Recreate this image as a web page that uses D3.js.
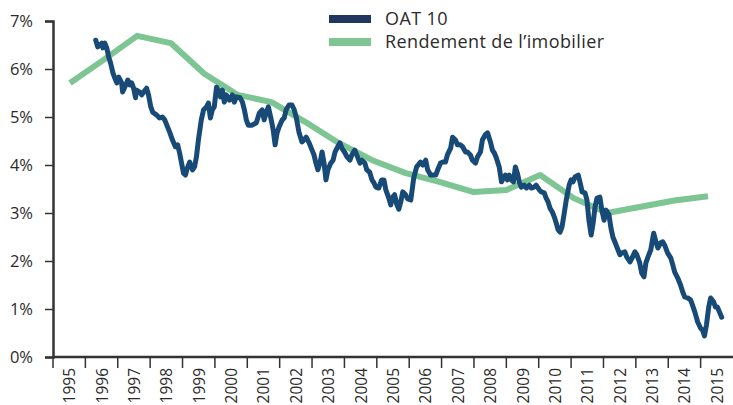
<!DOCTYPE html>
<html>
<head>
<meta charset="utf-8">
<script src="https://cdn.jsdelivr.net/npm/d3@7"></script>
<style>
  body { margin: 0; background: #fff; overflow: hidden; }
  svg { display: block; }
  text { font-family: "Open Sans", sans-serif; fill: #2b2b2b; }
</style>
</head>
<body>
<div id="chart"></div>
<script>
// ---- Data ----
const years = d3.range(1995, 2016).map(String);
const yTicks = [0, 1, 2, 3, 4, 5, 6, 7];

// Rendement de l'imobilier (annual)
const rendYears = d3.range(1995, 2015).map(String);
const rendValues = [5.71, 6.19, 6.69, 6.54, 5.90, 5.46, 5.31, 4.90, 4.46, 4.10,
                    3.83, 3.65, 3.44, 3.48, 3.79, 3.31, 3.00, 3.13, 3.26, 3.35];

// OAT 10 (decimal years, %)
const oatDates = [
  1996.32, 1996.38, 1996.51, 1996.54, 1996.60, 1996.66, 1996.72, 1996.78, 1996.85, 1996.91,
  1996.97, 1997.03, 1997.12, 1997.15, 1997.25, 1997.31, 1997.37, 1997.43, 1997.49, 1997.55,
  1997.58, 1997.68, 1997.74, 1997.80, 1997.89, 1997.95, 1998.02, 1998.08, 1998.20, 1998.29,
  1998.38, 1998.45, 1998.54, 1998.60, 1998.69, 1998.78, 1998.85, 1998.91, 1998.97, 1999.03,
  1999.09, 1999.15, 1999.22, 1999.31, 1999.37, 1999.43, 1999.49, 1999.58, 1999.65, 1999.74,
  1999.80, 1999.86, 1999.92, 1999.98, 2000.05, 2000.11, 2000.17, 2000.23, 2000.29, 2000.35,
  2000.45, 2000.54, 2000.60, 2000.66, 2000.78, 2000.85, 2000.91, 2000.97, 2001.03, 2001.15,
  2001.28, 2001.37, 2001.46, 2001.52, 2001.58, 2001.65, 2001.74, 2001.80, 2001.86, 2001.92,
  2001.98, 2002.08, 2002.14, 2002.20, 2002.29, 2002.38, 2002.45, 2002.51, 2002.60, 2002.69,
  2002.75, 2002.82, 2002.91, 2003.00, 2003.06, 2003.12, 2003.18, 2003.25, 2003.31, 2003.37,
  2003.43, 2003.49, 2003.58, 2003.65, 2003.71, 2003.77, 2003.86, 2003.92, 2004.02, 2004.08,
  2004.17, 2004.23, 2004.32, 2004.38, 2004.48, 2004.54, 2004.63, 2004.69, 2004.78, 2004.85,
  2004.91, 2004.97, 2005.06, 2005.15, 2005.22, 2005.28, 2005.37, 2005.43, 2005.49, 2005.55,
  2005.62, 2005.68, 2005.74, 2005.80, 2005.89, 2005.95, 2006.05, 2006.14, 2006.23, 2006.35,
  2006.42, 2006.51, 2006.57, 2006.66, 2006.72, 2006.82, 2006.88, 2006.97, 2007.03, 2007.12,
  2007.18, 2007.28, 2007.34, 2007.43, 2007.49, 2007.58, 2007.65, 2007.74, 2007.80, 2007.89,
  2007.95, 2008.05, 2008.11, 2008.20, 2008.26, 2008.35, 2008.42, 2008.51, 2008.57, 2008.63,
  2008.69, 2008.78, 2008.85, 2008.91, 2008.97, 2009.03, 2009.09, 2009.15, 2009.22, 2009.28,
  2009.34, 2009.40, 2009.46, 2009.55, 2009.62, 2009.71, 2009.77, 2009.86, 2009.92, 2010.02,
  2010.08, 2010.17, 2010.23, 2010.29, 2010.35, 2010.42, 2010.48, 2010.54, 2010.60, 2010.66,
  2010.72, 2010.78, 2010.85, 2010.94, 2011.00, 2011.06, 2011.12, 2011.22, 2011.28, 2011.34,
  2011.43, 2011.49, 2011.55, 2011.62, 2011.68, 2011.74, 2011.80, 2011.89, 2011.95, 2012.02,
  2012.08, 2012.17, 2012.23, 2012.29, 2012.35, 2012.45, 2012.51, 2012.57, 2012.66, 2012.72,
  2012.82, 2012.88, 2012.97, 2013.03, 2013.12, 2013.18, 2013.25, 2013.31, 2013.40, 2013.46,
  2013.55, 2013.62, 2013.68, 2013.77, 2013.83, 2013.89, 2013.98, 2014.08, 2014.14, 2014.20,
  2014.29, 2014.38, 2014.45, 2014.51, 2014.60, 2014.69, 2014.75, 2014.82, 2014.91, 2015.00,
  2015.06, 2015.12, 2015.18, 2015.25, 2015.31, 2015.40, 2015.46, 2015.52, 2015.58, 2015.65
];
const oatValues = [
  6.60, 6.46, 6.54, 6.44, 6.54, 6.44, 6.25, 6.12, 5.92, 5.81,
  5.71, 5.83, 5.71, 5.52, 5.67, 5.77, 5.67, 5.71, 5.60, 5.40,
  5.56, 5.52, 5.46, 5.52, 5.60, 5.46, 5.21, 5.10, 5.04, 4.98,
  5.00, 4.94, 4.79, 4.69, 4.52, 4.38, 4.42, 4.25, 4.04, 3.83,
  3.79, 3.94, 4.06, 3.90, 3.96, 4.17, 4.52, 4.94, 5.15, 5.21,
  5.29, 4.98, 5.15, 5.21, 5.62, 5.56, 5.42, 5.56, 5.31, 5.46,
  5.35, 5.46, 5.31, 5.42, 5.40, 5.31, 5.15, 4.94, 4.83, 4.83,
  4.88, 5.08, 5.15, 4.94, 5.08, 5.21, 4.94, 4.73, 4.42, 4.67,
  4.79, 4.94, 4.98, 5.15, 5.25, 5.25, 5.15, 5.00, 4.67, 4.48,
  4.52, 4.58, 4.46, 4.31, 4.21, 4.04, 3.90, 4.06, 4.27, 4.04,
  3.69, 3.90, 4.04, 4.10, 4.27, 4.35, 4.46, 4.35, 4.25, 4.17,
  4.10, 4.21, 4.31, 4.21, 4.04, 4.10, 4.04, 3.90, 3.85, 3.69,
  3.63, 3.54, 3.52, 3.69, 3.69, 3.48, 3.31, 3.17, 3.33, 3.38,
  3.17, 3.08, 3.23, 3.44, 3.38, 3.30, 3.27, 3.73, 3.96, 4.06,
  4.00, 4.10, 3.90, 3.79, 3.79, 3.79, 3.90, 4.04, 4.06, 4.06,
  4.21, 4.35, 4.58, 4.52, 4.42, 4.42, 4.38, 4.27, 4.27, 4.21,
  4.10, 4.04, 4.17, 4.27, 4.52, 4.63, 4.67, 4.48, 4.31, 4.25,
  4.15, 3.96, 3.65, 3.73, 3.79, 3.69, 3.79, 3.69, 3.65, 3.96,
  3.83, 3.65, 3.54, 3.58, 3.52, 3.58, 3.52, 3.54, 3.58, 3.48,
  3.44, 3.42, 3.31, 3.23, 3.10, 3.02, 2.92, 2.79, 2.65, 2.60,
  2.71, 2.96, 3.27, 3.58, 3.69, 3.65, 3.75, 3.79, 3.63, 3.44,
  3.42, 3.27, 2.85, 2.54, 2.79, 3.13, 3.31, 3.33, 3.06, 2.85,
  3.06, 2.96, 2.69, 2.50, 2.40, 2.23, 2.13, 2.17, 2.19, 2.08,
  1.98, 2.06, 2.19, 2.13, 1.96, 1.75, 1.67, 1.96, 2.13, 2.23,
  2.58, 2.40, 2.27, 2.38, 2.40, 2.33, 2.17, 2.06, 1.92, 1.77,
  1.65, 1.50, 1.35, 1.25, 1.23, 1.19, 1.08, 0.94, 0.73, 0.60,
  0.56, 0.44, 0.67, 1.04, 1.23, 1.15, 1.04, 1.04, 0.94, 0.83
];

const navy = "#174a77";
const navyLegend = "#22375f";
const green = "#7dc592";
const axisColor = "#333333";

const width = 733, height = 405;
const margin = { top: 21, right: 0, bottom: 48, left: 53 };
const innerWidth = width - margin.left - margin.right;
const innerHeight = height - margin.top - margin.bottom;

// ---- Set up chart area ----
const svg = d3.select("#chart")
    .append("svg")
    .attr("width", width)
    .attr("height", height)
    .append("g")
    .attr("transform", `translate(${margin.left},${margin.top})`);

// ---- Scales ----
const xBand = d3.scaleBand().domain(years).range([0, innerWidth]);
const xTime = d3.scaleLinear().domain([1995, 2016]).range([0, innerWidth]);
const xRend = d3.scalePoint().domain(rendYears).range([17, 655]);
const yScale = d3.scaleLinear().domain([0, 7]).range([innerHeight, 0]);

// ---- Lines ----
const rendLine = d3.line()
    .x((d, i) => xRend(rendYears[i]))
    .y(d => yScale(d));

const oatLine = d3.line()
    .x((d, i) => xTime(oatDates[i]))
    .y(d => yScale(d));

svg.append("path")
    .datum(rendValues)
    .attr("d", rendLine)
    .attr("fill", "none")
    .attr("stroke", green)
    .attr("stroke-width", 6)
    .attr("stroke-linejoin", "round");

svg.append("path")
    .datum(oatValues)
    .attr("d", oatLine)
    .attr("fill", "none")
    .attr("stroke", navy)
    .attr("stroke-width", 5)
    .attr("stroke-linejoin", "round")
    .attr("stroke-linecap", "round");

// ---- Left axis ----
const yAxis = svg.append("g")
    .attr("class", "axis y-axis")
    .call(d3.axisLeft(yScale).tickValues(yTicks).tickFormat(d => d + "%").tickSize(8).tickPadding(12));

yAxis.select(".domain").attr("stroke", axisColor).attr("stroke-width", 2.5);
yAxis.selectAll(".tick line").attr("stroke", axisColor).attr("stroke-width", 1.5);
yAxis.selectAll(".tick text")
    .attr("font-size", 16.5)
    .attr("fill", "#2b2b2b")
    .style("font-family", "'Open Sans', sans-serif");

// ---- Bottom axis ----
const xAxisG = svg.append("g")
    .attr("class", "axis x-axis")
    .attr("transform", `translate(0,${innerHeight})`);

xAxisG.append("line")
    .attr("x1", 0).attr("x2", innerWidth)
    .attr("stroke", axisColor).attr("stroke-width", 2.5);

xAxisG.selectAll(".xtick")
    .data(years)
    .join("line")
    .attr("class", "xtick")
    .attr("x1", d => xBand(d))
    .attr("x2", d => xBand(d))
    .attr("y1", 0).attr("y2", 11)
    .attr("stroke", axisColor).attr("stroke-width", 1.5);

xAxisG.selectAll(".xlabel")
    .data(years)
    .join("text")
    .attr("class", "xlabel")
    .attr("transform", d => `translate(${xBand(d) + xBand.bandwidth() / 2 + 6},11) rotate(-90)`)
    .attr("text-anchor", "end")
    .attr("font-size", 15.5)
    .text(d => d);

// ---- Legend ----
const legendItems = ["OAT 10", "Rendement de l\u2019imobilier"];
const legendColors = [navyLegend, green];
const legend = svg.append("g")
    .attr("transform", `translate(${329 - margin.left},${-2})`);

legend.selectAll("rect")
    .data(legendItems)
    .join("rect")
    .attr("x", 0)
    .attr("y", (d, i) => i * 23 - 4)
    .attr("width", 42)
    .attr("height", 8)
    .attr("fill", (d, i) => legendColors[i]);

legend.selectAll("text")
    .data(legendItems)
    .join("text")
    .attr("x", 56)
    .attr("y", (d, i) => i * 23 + 6)
    .attr("font-size", 18)
    .attr("letter-spacing", 0.4)
    .text(d => d);
</script>
</body>
</html>
